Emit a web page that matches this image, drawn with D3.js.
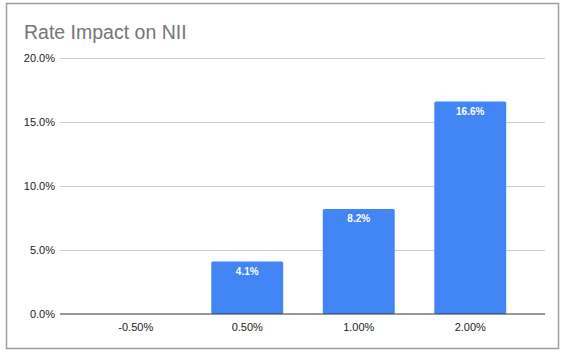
<!DOCTYPE html>
<html><head><meta charset="utf-8">
<script src="https://cdn.jsdelivr.net/npm/d3@7"></script>
<style>body{margin:0;background:#fff}svg{display:block}</style>
</head><body>
<script>
const categories = ["-0.50%", "0.50%", "1.00%", "2.00%"];
const values = [0, 4.1, 8.2, 16.6];
const barLabels = ["", "4.1%", "8.2%", "16.6%"];
const yTicks = [0, 5, 10, 15, 20];
const title = "Rate Impact on NII";

const W = 565, H = 356;
const svg = d3.select("body").append("svg").attr("width", W).attr("height", H);
svg.append("rect").attr("x", 6.5).attr("y", 3.5).attr("width", 552).attr("height", 345)
  .attr("fill", "#fff").attr("stroke", "#9e9e9e").attr("stroke-width", 1.5);

const gridL = 60, gridR = 545;
const y = d3.scaleLinear().domain([0, 20]).range([314, 58]);
const x = d3.scaleBand().domain(categories).range([80, 526]).paddingInner(0.355).paddingOuter(0.1775);

svg.append("text").attr("x", 24).attr("y", 39).text(title)
  .attr("font-family", "Arial, 'Liberation Sans', sans-serif").attr("font-size", 19.5).attr("fill", "#757575");

const grid = svg.append("g");
yTicks.forEach(t => {
  if (t !== 0) grid.append("line").attr("x1", gridL).attr("x2", gridR).attr("y1", Math.round(y(t)) + 0.5).attr("y2", Math.round(y(t)) + 0.5)
    .attr("stroke", "#cccccc").attr("stroke-width", 1);
  grid.append("text").attr("x", gridL - 5).attr("y", y(t) + 4).attr("text-anchor", "end")
    .attr("font-family", "Arial, 'Liberation Sans', sans-serif").attr("font-size", 11).attr("fill", "#222")
    .text(t.toFixed(1) + "%");
});

svg.append("g").selectAll("rect").data(values).join("rect")
  .attr("x", (d, i) => x(categories[i])).attr("width", x.bandwidth())
  .attr("y", d => y(d)).attr("height", d => y(0) - y(d))
  .attr("rx", 1.5).attr("fill", "#4285f4");

svg.append("g").selectAll("text").data(values).join("text")
  .attr("x", (d, i) => x(categories[i]) + x.bandwidth() / 2).attr("y", d => y(d) + 13)
  .attr("text-anchor", "middle").attr("font-family", "Arial, 'Liberation Sans', sans-serif")
  .attr("font-size", 10).attr("font-weight", "bold").attr("fill", "#fff")
  .text((d, i) => barLabels[i]);

svg.append("line").attr("x1", gridL).attr("x2", gridR).attr("y1", y(0)).attr("y2", y(0))
  .attr("stroke", "#333").attr("stroke-width", 1.2);

const xAxis = d3.axisBottom(x).tickSize(0).tickPadding(9);
const gx = svg.append("g").attr("transform", `translate(0,${y(0)})`).call(xAxis);
gx.select(".domain").remove();
gx.selectAll("text").attr("font-family", "Arial, 'Liberation Sans', sans-serif").attr("font-size", 11).attr("fill", "#222");
</script>
</body></html>
